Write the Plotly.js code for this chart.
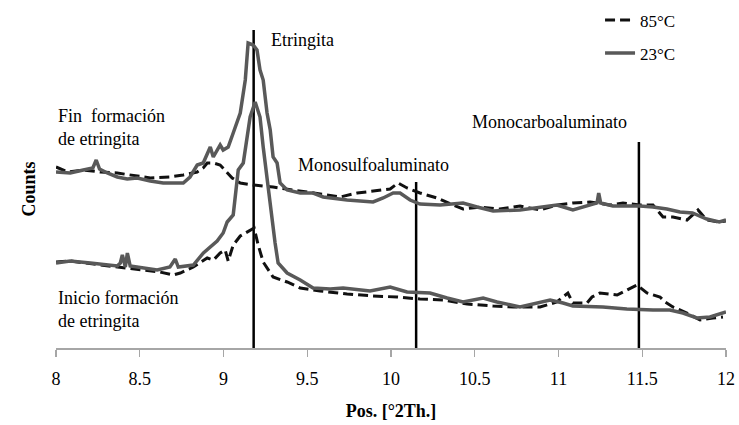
<!DOCTYPE html>
<html>
<head>
<meta charset="utf-8">
<script src="https://cdn.plot.ly/plotly-3.0.1.min.js"></script>
<style>html,body{margin:0;padding:0;background:#fff;}#chart{width:739px;height:425px;}</style>
</head>
<body>
<div id="chart"></div>
<script>
// Fin formación de etringita — 23 °C (solid)
var finX23 = [8.00,8.085,8.163,8.22,8.24,8.26,8.306,8.366,8.425,8.485,8.563,8.64,8.70,8.76,8.80,8.843,8.879,8.903,8.921,8.939,8.962,8.98,8.998,9.028,9.058,9.10,9.13,9.147,9.177,9.20,9.218,9.237,9.26,9.279,9.296,9.32,9.338,9.38,9.458,9.535,9.595,9.738,9.893,9.953,10.013,10.054,10.114,10.173,10.293,10.43,10.514,10.61,10.77,10.89,10.99,11.086,11.17,11.23,11.24,11.252,11.325,11.486,11.564,11.647,11.725,11.80,11.885,11.96,12.0];
var finY23 = [176,175,178,180,188,179,175,171,169,170,167,165,165,165,171,183,185,195,201,191,198,203,198,201,215,235,268,305,303,298,278,268,235,218,191,185,165,158,155,155,151,148,146,150,155,155,148,144,143,145,141,137,138,141,143,138,142,145,155,145,142,142,141,139,136,135,129,126,128];

// Fin formación de etringita — 85 °C (dashed)
var finX85 = [8.00,8.07,8.163,8.265,8.366,8.485,8.563,8.68,8.76,8.843,8.879,8.903,8.94,8.98,9.01,9.052,9.10,9.177,9.296,9.416,9.535,9.696,9.798,9.893,9.995,10.042,10.096,10.173,10.275,10.37,10.43,10.532,10.65,10.77,10.89,10.99,11.086,11.188,11.307,11.385,11.486,11.564,11.624,11.683,11.767,11.833,11.885,11.96,12.0];
var finY85 = [181,176,178,176,175,172,170,171,173,176,180,185,185,183,178,170,165,163,161,158,155,151,155,157,159,165,160,155,150,143,139,141,139,142,138,143,145,146,143,145,143,143,131,131,128,138,128,126,127];

// Inicio formación de etringita — 23 °C (solid)
var iniX23 = [8.00,8.085,8.205,8.366,8.384,8.396,8.414,8.426,8.443,8.52,8.604,8.68,8.712,8.73,8.82,8.88,8.921,8.962,8.998,9.022,9.058,9.088,9.118,9.141,9.159,9.189,9.218,9.237,9.267,9.29,9.308,9.326,9.38,9.458,9.535,9.637,9.714,9.875,9.995,10.096,10.233,10.335,10.43,10.55,10.633,10.77,10.872,10.95,11.027,11.086,11.265,11.408,11.564,11.665,11.743,11.826,11.904,12.0];
var iniY23 = [85,87,85,82,85,93,81,95,82,80,78,81,89,81,83,95,101,107,115,126,133,178,185,208,231,246,231,201,158,131,105,85,75,68,60,59,60,57,61,56,55,50,46,50,46,41,45,48,45,42,41,39,38,38,35,30,31,36];

// Inicio formación de etringita — 85 °C (dashed)
var iniX85 = [8.00,8.085,8.265,8.443,8.52,8.62,8.70,8.742,8.82,8.903,8.94,8.98,9.01,9.028,9.058,9.10,9.159,9.183,9.207,9.237,9.296,9.38,9.458,9.577,9.738,9.893,10.036,10.173,10.31,10.455,10.61,10.73,10.848,10.89,10.99,11.056,11.086,11.17,11.2,11.247,11.35,11.385,11.427,11.469,11.528,11.606,11.636,11.683,11.767,11.845,11.922,11.982];
var iniY85 = [86,87,83,80,78,76,73,75,81,90,88,95,98,87,103,112,118,120,103,86,71,66,60,57,54,52,51,49,48,44,42,41,41,41,46,55,45,45,51,55,53,56,60,63,55,51,46,41,35,28,30,31];

// Reference phase positions (°2Th) and marker line tops
var phaseNames = ["Etringita", "Monosulfoaluminato", "Monocarboaluminato"];
var phasePos = [9.18, 10.15, 11.48];
var phaseTop = [322, 166, 206];

var xTicks = [8, 8.5, 9, 9.5, 10, 10.5, 11, 11.5, 12];
var seriesNames = ["85°C", "23°C"];

var serif = "Liberation Serif";
var solidColor = "#595959";
var dashColor = "#111111";

var traces = [];
for (var i = 0; i < phasePos.length; i++) {
  traces.push({x: [phasePos[i], phasePos[i]], y: [0, phaseTop[i]], mode: "lines",
    line: {color: "#000", width: 2.5}, showlegend: false, hoverinfo: "skip"});
}
traces.push({x: finX85, y: finY85, mode: "lines", name: seriesNames[0], legendgroup: "g85",
  line: {color: dashColor, width: 3, dash: "10px,5px"}, showlegend: true});
traces.push({x: iniX85, y: iniY85, mode: "lines", name: seriesNames[0], legendgroup: "g85",
  line: {color: dashColor, width: 3, dash: "10px,5px"}, showlegend: false});
traces.push({x: finX23, y: finY23, mode: "lines", name: seriesNames[1], legendgroup: "g23",
  line: {color: solidColor, width: 3.5}, showlegend: true});
traces.push({x: iniX23, y: iniY23, mode: "lines", name: seriesNames[1], legendgroup: "g23",
  line: {color: solidColor, width: 3.5}, showlegend: false});

var ann = function (x, y, text) {
  return {x: x, y: y, xref: "x", yref: "y", text: text, showarrow: false,
    xanchor: "left", yanchor: "middle", align: "left",
    font: {family: serif, size: 18, color: "#000"}};
};

var layout = {
  width: 739, height: 425,
  margin: {l: 56, r: 13, t: 30, b: 77, autoexpand: false},
  paper_bgcolor: "#fff", plot_bgcolor: "#fff",
  font: {family: serif, color: "#000"},
  showlegend: true,
  legend: {x: 0.812, y: 1.087, xanchor: "left", yanchor: "top",
    font: {family: serif, size: 17, color: "#000"}, tracegroupgap: 8,
    bgcolor: "rgba(0,0,0,0)"},
  xaxis: {range: [8, 12], tickvals: xTicks, ticktext: xTicks.map(String),
    ticks: "outside", ticklen: 7, tickcolor: "#a6a6a6", tickwidth: 1.2,
    ticklabelstandoff: 7, showline: true, linecolor: "#a6a6a6", linewidth: 1.5,
    showgrid: false, zeroline: false,
    tickfont: {family: serif, size: 18, color: "#000"},
    title: {text: "<b>Pos. [°2Th.]</b>", font: {family: serif, size: 18, color: "#000"}, standoff: 16}},
  yaxis: {range: [0, 318], showticklabels: false, ticks: "", showline: false,
    showgrid: false, zeroline: false,
    title: {text: "<b>Counts</b>", font: {family: serif, size: 18, color: "#000"}, standoff: 14}},
  annotations: [
    ann(9.27, 308, phaseNames[0]),
    {x: 0, y: 221, xref: "paper", yref: "y", text: "Fin  formación<br>de etringita", showarrow: false,
      xanchor: "left", yanchor: "middle", align: "left", font: {family: serif, size: 18, color: "#000"}},
    ann(9.43, 183, phaseNames[1]),
    ann(10.47, 226, phaseNames[2]),
    ann(8.0, 39, "Inicio formación<br>de etringita")
  ]
};

Plotly.newPlot("chart", traces, layout, {displayModeBar: false, staticPlot: true});
</script>
</body>
</html>
